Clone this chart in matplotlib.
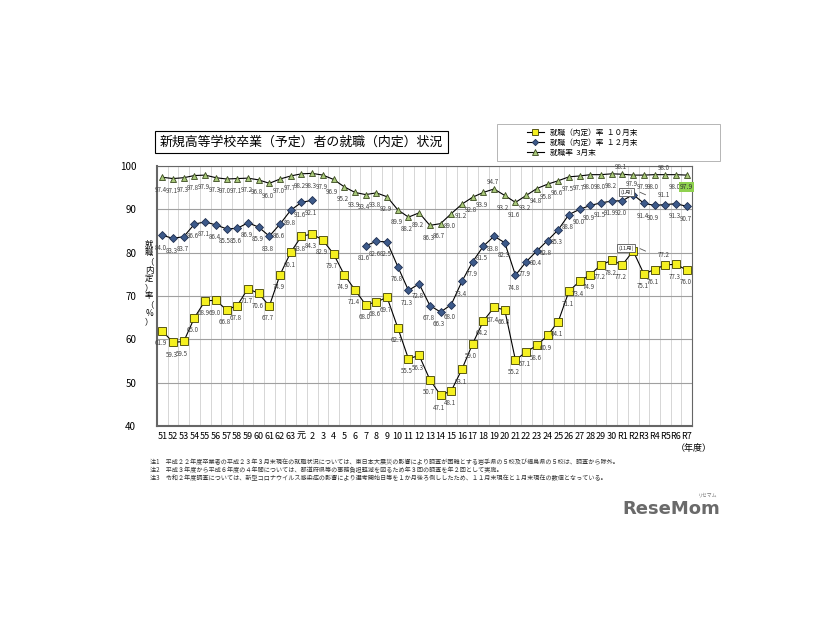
import matplotlib
matplotlib.use("Agg")
import matplotlib.pyplot as plt
from matplotlib.patches import Rectangle
import numpy as np

plt.rcParams['font.family'] = ['Noto Sans CJK JP', 'DejaVu Sans']

# 年度ラベル（昭和51〜63、平成元〜30、令和1〜7）
years = [str(i) for i in range(51, 64)] + ['元'] + [str(i) for i in range(2, 31)] + ['R' + str(i) for i in range(1, 8)]

# 就職（内定）率 10月末
oct_rate = [61.9, 59.3, 59.5, 65.0, 68.9, 69.0, 66.8, 67.8, 71.7, 70.6, 67.7, 74.9, 80.1,
            83.8, 84.3, 82.9, 79.7, 74.9, 71.4, 68.0, 68.6, 69.7, 62.7, 55.5, 56.3,
            50.7, 47.1, 48.1, 53.1, 59.0, 64.2, 67.4, 66.8, 55.2, 57.1, 58.6, 60.9,
            64.1, 71.1, 73.4, 74.9, 77.2, 78.2,
            77.2, 80.4, 75.1, 76.1, 77.2, 77.3, 76.0]

# 就職（内定）率 12月末（平成3〜6年度は調査なし）
dec_rate = [84.0, 83.3, 83.7, 86.6, 87.1, 86.4, 85.5, 85.6, 86.9, 85.9, 83.8, 86.6, 89.8,
            91.6, 92.1, None, None, None, None, 81.6, 82.6, 82.5, 76.8, 71.3, 72.8,
            67.8, 66.3, 68.0, 73.4, 77.9, 81.5, 83.8, 82.3, 74.8, 77.9, 80.4, 82.8,
            85.3, 88.8, 90.0, 90.9, 91.5, 91.9,
            92.0, 93.4, 91.4, 90.9, 91.1, 91.3, 90.7]

# 就職率 3月末
mar_rate = [97.4, 97.1, 97.3, 97.8, 97.9, 97.3, 97.0, 97.1, 97.2, 96.8, 96.0, 97.0, 97.7,
            98.2, 98.3, 97.9, 96.9, 95.2, 93.9, 93.4, 93.8, 92.9, 89.9, 88.2, 89.2,
            86.3, 86.7, 89.0, 91.2, 92.8, 93.9, 94.7, 93.2, 91.6, 93.2, 94.8, 95.8,
            96.6, 97.5, 97.7, 98.0, 98.0, 98.2,
            98.1, 97.9, 97.9, 98.0, 98.0, 98.0, 97.9]

notes = [
    '注1　平成２２年度卒業者の平成２３年３月末現在の就職状況については、東日本大震災の影響により調査が困難とする岩手県の５校及び福島県の５校は、調査から除外。',
    '注2　平成３年度から平成６年度の４年間については、都道府県等の事務負担軽減を図るため年３回の調査を年２回として実施。',
    '注3　令和２年度調査については、新型コロナウイルス感染症の影響により選考開始日等を１か月後ろ倒ししたため、１１月末現在と１月末現在の数値となっている。',
]

fig = plt.figure(figsize=(8.26, 6.2), dpi=100)
ax = fig.add_axes([157 / 826, 194 / 620, 535 / 826, 260 / 620])

x = np.arange(len(years))
dec_arr = np.array([np.nan if v is None else v for v in dec_rate])

ax.plot(x, mar_rate, '-', color='black', lw=0.8, marker='^', ms=5,
        mfc='#a9c97a', mec='#3a4a20', mew=0.6, zorder=3, label='就職率  3月末')
ax.plot(x, dec_arr, '-', color='black', lw=0.8, marker='D', ms=4,
        mfc='#3d5a8a', mec='#1f2f50', mew=0.6, zorder=3, label='就職（内定）率  １２月末')
ax.plot(x, oct_rate, '-', color='black', lw=0.8, marker='s', ms=5.5,
        mfc='#f5f020', mec='#404000', mew=0.6, zorder=3, label='就職（内定）率  １０月末')

# データラベル
above = {('m', 31), ('m', 43), ('m', 47), ('d', 47), ('o', 47)}
for key, vals in (('m', mar_rate), ('d', dec_rate), ('o', oct_rate)):
    for i, v in enumerate(vals):
        if v is None:
            continue
        if (key, i) in {('d', 44), ('o', 44), ('m', 49)}:
            continue
        if (key, i) in above:
            dy = 2 if key == 'm' else 4
        elif (key, i) == ('m', 44):
            dy = -3.5
        else:
            dy = -6
        va = 'bottom' if dy > 0 else 'top'
        ax.annotate(f'{v:.1f}', (i, v), xytext=(-1, dy), textcoords='offset points',
                    ha='center', va=va, fontsize=4.5, color='#444444', zorder=4)

# 最新値の強調
ax.annotate(f'{mar_rate[-1]:.1f}', (49, mar_rate[-1]), xytext=(0, -6), textcoords='offset points',
            ha='center', va='top', fontsize=5, color='#333333', zorder=5,
            bbox=dict(boxstyle='square,pad=0.15', fc='#8fd14f', ec='none'))

# 吹き出し
for vals, txt in ((dec_rate, '(1月)'), (oct_rate, '(11月)')):
    ax.annotate('', (45.4, vals[44] - 0.3), xytext=(44.4, vals[44] + 0.8),
                arrowprops=dict(arrowstyle='-', color='#555555', lw=0.6), zorder=5)
    ax.annotate(txt, (44, vals[44]), xytext=(-5, 2), textcoords='offset points',
                ha='center', va='center', fontsize=4, color='#333333', zorder=6,
                bbox=dict(boxstyle='square,pad=0.25', fc='white', ec='#555555', lw=0.6))

ax.set_xlim(-0.5, len(years) - 0.5)
ax.set_ylim(40, 100)
ax.set_yticks(range(40, 101, 10))
ax.set_xticks(x)
ax.set_xticklabels(years, fontsize=6.5)
ax.tick_params(axis='y', labelsize=7, length=0, pad=15)
ax.tick_params(axis='x', length=0, pad=4)

ax.set_xticks(np.arange(-0.5, len(years), 1), minor=True)
ax.tick_params(axis='x', which='minor', length=0)
ax.grid(True, which='minor', axis='x', color='#d0d0d0', lw=0.6)
ax.grid(True, which='major', axis='y', color='#a0a0a0', lw=0.8)
ax.set_axisbelow(True)
for s in ax.spines.values():
    s.set_color('#666666')
ax.spines['left'].set_linewidth(1.5)
ax.spines['bottom'].set_linewidth(1.5)

fig.text(149 / 826, 1 - 283 / 620, '就\n職\n（\n内\n定\n）\n率\n（\n%\n）', ha='center', va='center',
         fontsize=6, linespacing=0.95)
fig.text(694 / 826, 1 - 449 / 620, '（年度）', ha='center', va='center', fontsize=6.5)

fig.text(160 / 826, 1 - 142 / 620, '新規高等学校卒業（予定）者の就職（内定）状況', ha='left', va='center',
         fontsize=9.3, bbox=dict(boxstyle='square,pad=0.35', fc='white', ec='black', lw=0.8))

fig.patches.append(Rectangle((497 / 826, 1 - 161 / 620), 223 / 826, 37 / 620,
                             transform=fig.transFigure, fc='white', ec='#aaaaaa', lw=0.6))
h, l = ax.get_legend_handles_labels()
leg = fig.legend(h[::-1], l[::-1], loc='upper left', bbox_to_anchor=(520 / 826, 1 - 122 / 620),
                 fontsize=5.5, frameon=False, borderpad=0.4, labelspacing=0.25,
                 handlelength=2.2, markerscale=0.8)

for k, n in enumerate(notes):
    fig.text(150 / 826, 1 - (462 + k * 8) / 620, n, ha='left', va='center', fontsize=4.4, color='#333333')

fig.text(720 / 826, 1 - 509 / 620, 'ReseMom', ha='right', va='center', fontsize=13,
         fontweight='bold', color='#6a6a6a', family=['DejaVu Sans'])
fig.text(708 / 826, 1 - 495 / 620, 'リセマム', ha='center', va='center', fontsize=3.5, color='#777777')

fig.savefig('out.png', dpi=100)
